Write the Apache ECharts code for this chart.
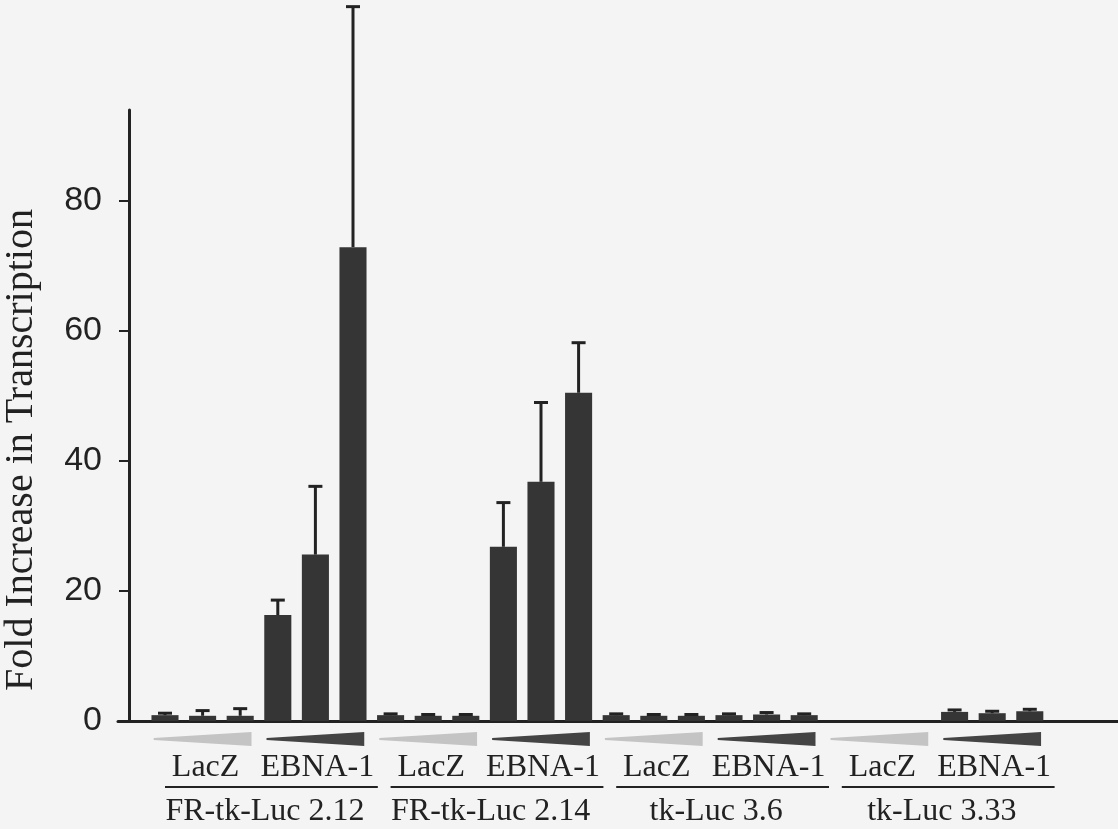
<!DOCTYPE html>
<html><head><meta charset="utf-8">
<script src="https://cdn.jsdelivr.net/npm/echarts@6/dist/echarts.min.js"></script>
<style>html,body{margin:0;padding:0;background:#f4f4f4}#c{width:1118px;height:829px}</style>
</head><body><div id="c"></div>
<script>
// ---- data ----
const groups = ['FR-tk-Luc 2.12', 'FR-tk-Luc 2.14', 'tk-Luc 3.6', 'tk-Luc 3.33'];
const conditions = ['LacZ', 'EBNA-1'];
const barsPerGroup = 6;
const meanValues = [
  0.9, 0.8, 0.8, 16.3, 25.6, 72.9,
  0.9, 0.8, 0.8, 26.8, 36.8, 50.5,
  0.9, 0.8, 0.8, 0.9, 1.0, 0.9,
  0, 0, 0, 1.4, 1.2, 1.5
];
const errorValues = [
  0.3, 0.8, 1.1, 2.3, 10.5, 37,
  0.2, 0.2, 0.2, 6.8, 12.2, 7.7,
  0.2, 0.2, 0.2, 0.2, 0.3, 0.2,
  0, 0, 0, 0.3, 0.3, 0.3
];
const yTicks = [0, 20, 40, 60, 80];
const yTitle = 'Fold Increase in Transcription';

// ---- chart ----
const chart = echarts.init(document.getElementById('c'), null, {renderer: 'canvas'});
const barData = meanValues.map((v, i) => [i, v, errorValues[i]]);
const annData = groups.map((g, gi) => [gi * barsPerGroup, gi]);
const INK = '#222';
const BAR = '#353535';

function renderBar(params, api) {
  const i = api.value(0), v = api.value(1), e = api.value(2);
  const base = api.coord([i, 0]);
  const top = api.coord([i, v]);
  const et = api.coord([i, v + e]);
  const w = api.size([1, 0])[0] * 0.72;
  const children = [];
  if (v > 0) {
    children.push({type: 'rect', shape: {x: base[0] - w / 2, y: top[1], width: w, height: base[1] - top[1]}, style: {fill: BAR}});
  }
  if (e > 0) {
    children.push({type: 'line', shape: {x1: top[0], y1: top[1], x2: et[0], y2: et[1]}, style: {stroke: INK, lineWidth: 3}});
    children.push({type: 'line', shape: {x1: et[0] - 7, y1: et[1], x2: et[0] + 7, y2: et[1]}, style: {stroke: INK, lineWidth: 3}});
  }
  return {type: 'group', children};
}

function wedge(api, center, fill) {
  const l = api.coord([center - 1.3, 0]);
  const r = api.coord([center + 1.3, 0]);
  const y = l[1] + 18;
  return {type: 'polygon', shape: {points: [[l[0], y - 1], [r[0], y - 7], [r[0], y + 7], [l[0], y + 1]]}, style: {fill}};
}

function renderAnn(params, api) {
  const s = api.value(0), gi = api.value(1);
  const base = api.coord([s, 0])[1];
  const font = '32px "Liberation Serif", "Times New Roman", serif';
  const c1 = api.coord([s + 1, 0])[0];
  const c2 = api.coord([s + 4, 0])[0];
  const u1 = api.coord([s, 0])[0];
  const u2 = api.coord([s + 5.66, 0])[0];
  const gc = api.coord([s + 2.5, 0])[0];
  return {type: 'group', children: [
    wedge(api, s + 1, '#c4c4c4'),
    wedge(api, s + 4, '#444'),
    {type: 'text', x: c1 + 3, y: base + 47, style: {text: conditions[0], font, fill: INK, align: 'center', verticalAlign: 'middle'}},
    {type: 'text', x: c2 + 2, y: base + 47, style: {text: conditions[1], font, fill: INK, align: 'center', verticalAlign: 'middle'}},
    {type: 'line', shape: {x1: u1, y1: base + 66, x2: u2, y2: base + 66}, style: {stroke: INK, lineWidth: 2}},
    {type: 'text', x: gc + 6, y: base + 91, style: {text: groups[gi], font, fill: INK, align: 'center', verticalAlign: 'middle'}}
  ]};
}

chart.setOption({
  backgroundColor: '#f4f4f4',
  animation: false,
  grid: {left: 118, right: 0, top: 110, bottom: 108},
  xAxis: {
    type: 'value', min: -1.25, max: 25.346,
    axisLine: {show: true, onZero: false, lineStyle: {color: INK, width: 3}},
    axisTick: {show: false}, axisLabel: {show: false}, splitLine: {show: false}
  },
  yAxis: {
    type: 'value', min: 0, max: 94, interval: 20, offset: -11,
    axisLine: {show: true, onZero: false, lineStyle: {color: INK, width: 3}},
    axisTick: {show: true, length: 10, lineStyle: {color: INK, width: 2}, customValues: yTicks},
    axisLabel: {margin: 27, customValues: yTicks, fontSize: 34, color: INK, fontFamily: '"Liberation Sans", Arial, sans-serif'},
    splitLine: {show: false}
  },
  graphic: [{
    type: 'text', x: 21, y: 450, rotation: Math.PI / 2,
    style: {text: yTitle, font: '40px "Liberation Serif", "Times New Roman", serif', fill: INK, align: 'center', verticalAlign: 'middle'}
  }],
  series: [
    {type: 'custom', data: barData, renderItem: renderBar, clip: false, encode: {x: 0, y: 1}, z: 3},
    {type: 'custom', data: annData, renderItem: renderAnn, clip: false, encode: {x: 0}, z: 3, silent: true}
  ]
});
</script>
</body></html>
